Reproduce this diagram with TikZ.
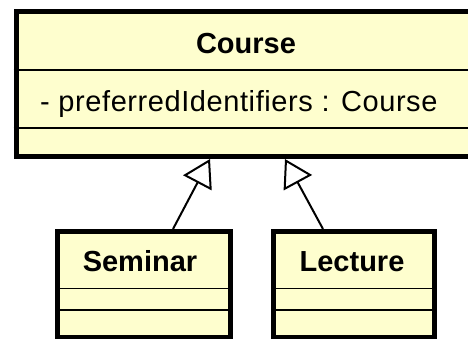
\documentclass[tikz,border=0pt]{standalone}
\usepackage{fontspec}
\setmainfont{Liberation Sans}
\newfontfamily\attrfont[LetterSpace=2.0]{Liberation Sans}
\usetikzlibrary{arrows.meta,positioning}

\definecolor{umlyellow}{HTML}{FEFECE}
\tikzset{
  classbox/.style={draw=black, line width=5pt, fill=umlyellow, inner sep=0pt},
  divider/.style={line width=1.5pt},
  label/.style={inner sep=0pt, text=black},
  extends/.style={-{Triangle[open, length=27pt, width=32pt]}, line width=2pt},
}

\begin{document}
\begin{tikzpicture}[x=1pt, y=-1pt, font=\fontsize{29}{34}\selectfont]
\useasboundingbox (0,0) rectangle (468,338);

% class boxes
\node[classbox, minimum width=460pt, minimum height=145.5pt] (course) at (246,83.75) {};
\node[classbox, minimum width=173pt, minimum height=105.5pt] (seminar) at (144,284.25) {};
\node[classbox, minimum width=161pt, minimum height=105.5pt] (lecture) at (354,284.25) {};

% compartments
\draw[divider] (course.west |- 0,70) -- (course.east |- 0,70);
\draw[divider] (course.west |- 0,128) -- (course.east |- 0,128);
\draw[divider] (seminar.west |- 0,288.5) -- (seminar.east |- 0,288.5);
\draw[divider] (seminar.west |- 0,310) -- (seminar.east |- 0,310);
\draw[divider] (lecture.west |- 0,288.5) -- (lecture.east |- 0,288.5);
\draw[divider] (lecture.west |- 0,310) -- (lecture.east |- 0,310);

% names and attributes
\node[label, anchor=base] (courseName) at (246,53) {\bfseries Course};
\node[label, anchor=base west] (courseAttr) at (40,111) {\attrfont - preferredIdentifiers : Course};
\node[label, anchor=base] (seminarName) at (140,271) {\bfseries Seminar};
\node[label, anchor=base] (lectureName) at (352,271) {\bfseries Lecture};

% generalisations
\draw[extends] ([xshift=29pt]seminar.north) -- ([xshift=-36pt]course.south);
\draw[extends] ([xshift=-31pt]lecture.north) -- ([xshift=39pt]course.south);
\end{tikzpicture}
\end{document}
